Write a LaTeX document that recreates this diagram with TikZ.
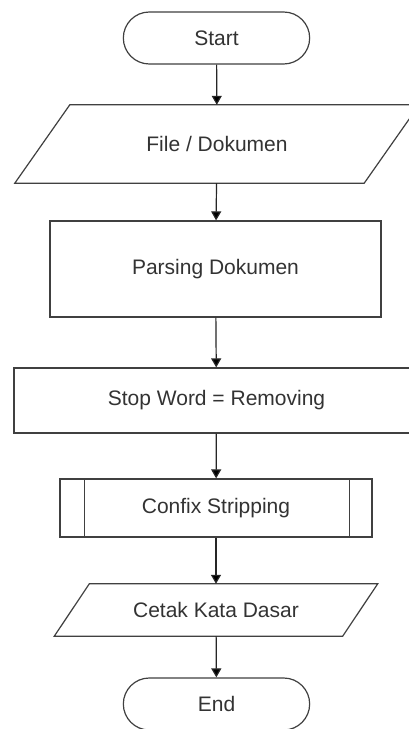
\documentclass[tikz,border=0pt]{standalone}
\usepackage{fontspec}
\setmainfont{Liberation Sans}
\usetikzlibrary{shapes.misc,arrows.meta}
\tikzstyle{terminal}=[rounded rectangle, draw=black!75, line width=1.2pt, minimum width=193pt, minimum height=52pt]
\tikzstyle{io}=[rectangle, inner sep=0pt]
\tikzstyle{process}=[rectangle, draw=black!75, line width=1.2pt]
\tikzstyle{outline}=[draw=black!75, line width=1.2pt]
\tikzstyle{flow}=[-{Triangle[width=10pt,length=9pt]}, draw=black!85, line width=1.2pt]

\begin{document}
\begin{tikzpicture}[x=1pt, y=1pt, font=\fontsize{21}{25}\selectfont, text=black!80]
		   \useasboundingbox[fill=white] (0,0) rectangle (409,729);
		   \begin{scope}
			   \node (0) at (216.5, 691)[terminal] {Start};
			   \node (1) at (217, 585)[io, minimum width=349pt, minimum height=78pt] {File / Dokumen};
			   \node (2) at (215.5, 460)[process, minimum width=331pt, minimum height=96pt] {Parsing Dokumen};
			   \node (3) at (216.5, 328.5)[process, minimum width=405pt, minimum height=65pt] {Stop Word = Removing};
			   \node (4) at (216, 221)[process, minimum width=312pt, minimum height=58pt] {Confix Stripping};
			   \node (5) at (216, 119)[io, minimum width=288pt, minimum height=52pt] {Cetak Kata Dasar};
			   \node (6) at (216.5, 25)[terminal] {End};
		   \end{scope}
		   \begin{scope}
			   \draw [outline] ([xshift=-27.5pt]1.south west) -- ([xshift=27.5pt]1.north west) -- ([xshift=27.5pt]1.north east) -- ([xshift=-27.5pt]1.south east) -- cycle;
			   \draw [outline] ([xshift=-17.5pt]5.south west) -- ([xshift=17.5pt]5.north west) -- ([xshift=17.5pt]5.north east) -- ([xshift=-17.5pt]5.south east) -- cycle;
			   \draw [outline] ([xshift=25pt]4.north west) -- ([xshift=25pt]4.south west);
			   \draw [outline] ([xshift=-23pt]4.north east) -- ([xshift=-23pt]4.south east);
		   \end{scope}
		   \begin{scope}
			   \path [flow] (0) edge (1);
			   \path [flow] (1) edge (2);
			   \path [flow] (2) edge (3);
			   \path [flow] (3) edge (4);
			   \path [flow] (4) edge (5);
			   \path [flow] (5) edge (6);
		   \end{scope}
	   \end{tikzpicture}
\end{document}
